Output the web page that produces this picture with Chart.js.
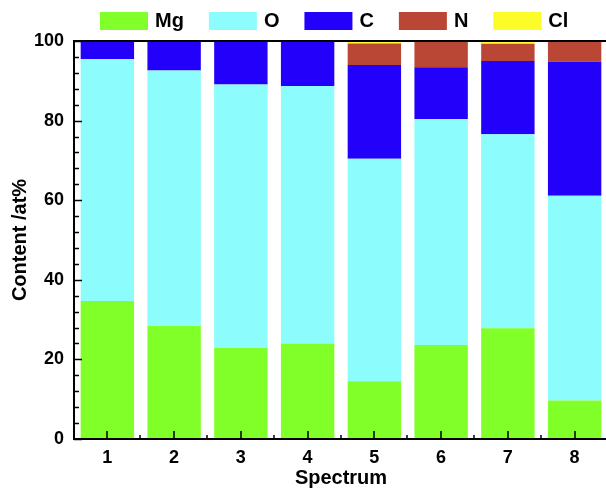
<!DOCTYPE html>
<html>
<head>
<meta charset="utf-8">
<script src="https://cdn.jsdelivr.net/npm/chart.js@4.4.1/dist/chart.umd.min.js"></script>
<style>
  html, body { margin: 0; padding: 0; background: #fff; overflow: hidden; }
  #wrap { width: 612px; height: 489px; }
</style>
</head>
<body>
<div id="wrap"><canvas id="chart"></canvas></div>
<script>
// atomic content per spectrum, at%
const spectra = ['1', '2', '3', '4', '5', '6', '7', '8'];
const mg = [34.7, 28.4, 22.9, 24.0, 14.5, 23.6, 27.8, 9.7];
const o = [60.8, 64.2, 66.2, 64.7, 55.9, 56.8, 48.8, 51.4];
const c = [4.5, 7.4, 10.9, 11.3, 23.6, 13.0, 18.4, 33.7];
const n = [0, 0, 0, 0, 5.4, 6.6, 4.3, 5.2];
const cl = [0, 0, 0, 0, 0.6, 0, 0.7, 0];
const yTicks = [0, 20, 40, 60, 80, 100];

const FONT = '"Liberation Sans", Arial, sans-serif';

// legend row above the frame
const topLegend = {
  id: 'topLegend',
  afterDraw(chart, args, opts) {
    const { ctx } = chart;
    ctx.save();
    ctx.font = `bold ${opts.fontSize}px ${FONT}`;
    ctx.textBaseline = 'middle';
    let x = opts.startX;
    chart.data.datasets.forEach((ds) => {
      ctx.fillStyle = ds.backgroundColor;
      ctx.fillRect(x, opts.top, opts.boxWidth, opts.boxHeight);
      x += opts.boxWidth + opts.textGap;
      ctx.fillStyle = '#000';
      ctx.fillText(ds.label, x, opts.top + opts.boxHeight / 2);
      x += ctx.measureText(ds.label).width + opts.itemGap;
    });
    ctx.restore();
  },
};

// closed frame with inward major/minor ticks
const frameTicks = {
  id: 'frameTicks',
  afterDatasetsDraw(chart, args, opts) {
    const { ctx, chartArea: { left, right, top, bottom }, scales: { x, y } } = chart;
    ctx.save();
    ctx.strokeStyle = '#000';
    ctx.lineWidth = 1.5;
    ctx.beginPath();
    for (let v = y.min; v <= y.max; v += opts.minorStep) {
      const py = Math.round(y.getPixelForValue(v)) + 0.5;
      const len = v % 20 === 0 ? 8 : 5;
      ctx.moveTo(left, py);
      ctx.lineTo(left + len, py);
    }
    const step = x.getPixelForTick(1) - x.getPixelForTick(0);
    x.ticks.forEach((t, i) => {
      const px = Math.round(x.getPixelForTick(i));
      ctx.moveTo(px, bottom);
      ctx.lineTo(px, bottom - 8);
      const edge = Math.round(px + step / 2);
      ctx.moveTo(edge, bottom);
      ctx.lineTo(edge, bottom - 4);
    });
    ctx.stroke();
    ctx.lineWidth = 2;
    ctx.strokeRect(left, top, right - left, bottom - top);
    ctx.restore();
  },
};

const makeSet = (label, data, color) => ({
  label: label,
  data: data,
  backgroundColor: color,
  borderWidth: 0,
  barPercentage: 0.8,
  categoryPercentage: 1.0,
});

const data = {
  labels: spectra,
  datasets: [
    makeSet('Mg', mg, '#80FF28'),
    makeSet('O', o, '#8CFCFC'),
    makeSet('C', c, '#2300FA'),
    makeSet('N', n, '#BA4735'),
    makeSet('Cl', cl, '#FCFC28'),
  ],
};

const config = {
  type: 'bar',
  data: data,
  plugins: [topLegend, frameTicks],
  options: {
    responsive: true,
    maintainAspectRatio: false,
    animation: false,
    layout: {
      padding: { top: 41, right: 4, bottom: 0, left: 0 },
    },
    plugins: {
      legend: { display: false },
      tooltip: { enabled: false },
      topLegend: {
        startX: 100,
        top: 12,
        boxWidth: 48,
        boxHeight: 18,
        textGap: 7,
        itemGap: 25,
        fontSize: 20,
      },
      frameTicks: { minorStep: 4 },
    },
    scales: {
      x: {
        stacked: true,
        grid: { display: false, drawTicks: false },
        border: { display: false },
        ticks: {
          color: '#000',
          padding: 8,
          font: { family: FONT, size: 18, weight: 'bold' },
        },
        title: {
          display: true,
          text: 'Spectrum',
          color: '#000',
          padding: { top: 0, bottom: 1 },
          font: { family: FONT, size: 20, weight: 'bold', lineHeight: 1.0 },
        },
        afterFit: (scale) => {
          scale.height = 50;
        },
      },
      y: {
        stacked: true,
        min: 0,
        max: 100,
        grid: { display: false, drawTicks: false },
        border: { display: false },
        afterBuildTicks: (scale) => {
          scale.ticks = yTicks.map((v) => ({ value: v }));
        },
        ticks: {
          color: '#000',
          padding: 10,
          font: { family: FONT, size: 18, weight: 'bold' },
        },
        title: {
          display: true,
          text: 'Content /at%',
          color: '#000',
          padding: { top: 8, bottom: 0 },
          font: { family: FONT, size: 20, weight: 'bold' },
        },
        afterFit: (scale) => {
          scale.width = 74;
        },
      },
    },
  },
};

new Chart(document.getElementById('chart'), config);
</script>
</body>
</html>
